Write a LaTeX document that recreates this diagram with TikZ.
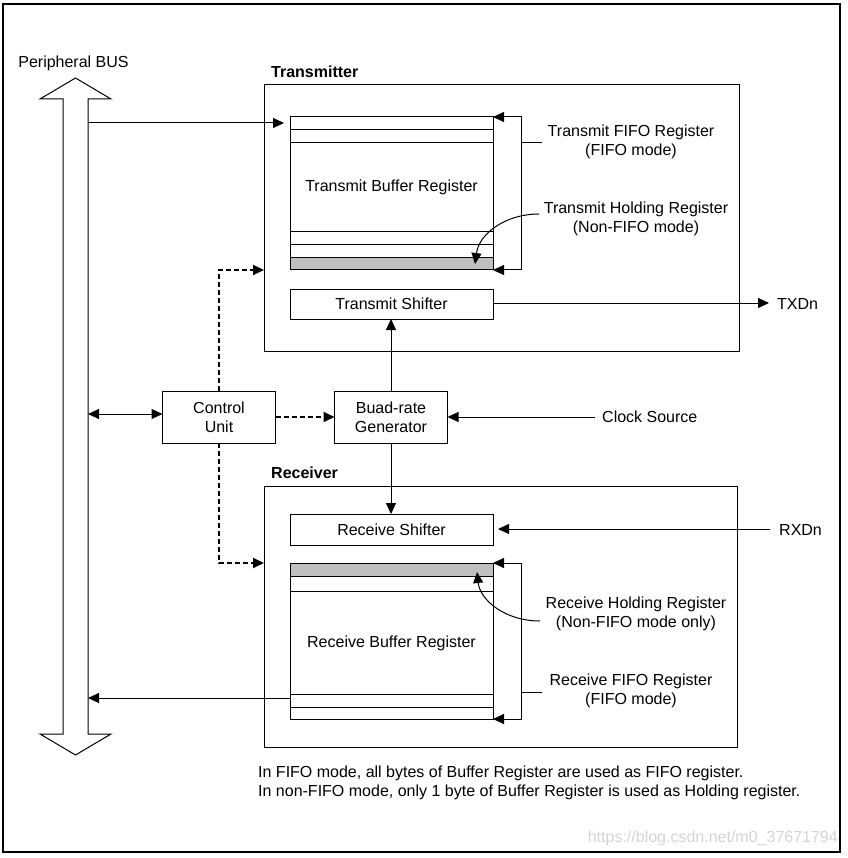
\documentclass[tikz,border=0pt]{standalone}
\usepackage{fontspec}
\setmainfont{Liberation Sans}
\usetikzlibrary{arrows.meta,calc}
\begin{document}
\begin{tikzpicture}[x=1pt,y=-1pt,
  every node/.style={font=\fontsize{16}{19}\selectfont},
  blk/.style={draw,line width=1pt,inner sep=0pt,outer sep=0pt,fill=white,align=center},
  lbl/.style={inner sep=0pt,align=center},
  arr/.style={line width=1pt,-{Triangle[length=11pt,width=10pt]}},
  arrb/.style={line width=1pt,{Triangle[length=11pt,width=10pt]}-{Triangle[length=11pt,width=10pt]}},
  darr/.style={line width=1.8pt,dash pattern=on 5pt off 3pt,-{Triangle[length=11pt,width=10pt]}},
  ln/.style={line width=1pt},
  holdfill/.style={fill=black!25}
]
\useasboundingbox (0,0) rectangle (847,858);
\draw[line width=2.5pt] (3,4) rectangle (840,852);

% Peripheral bus
\node[lbl] (buslbl) at (73.5,63) {Peripheral BUS};
\draw[line width=1pt,fill=white] (63,99) -- (40,99) -- (75.5,78) -- (111,99) -- (88,99)
  -- (88,734) -- (111,734) -- (75.5,755) -- (40,734) -- (63,734) -- cycle;
\coordinate (busT) at (88,123);
\coordinate (busC) at (88,414);
\coordinate (busR) at (88,698);

% Transmitter
\node[blk,minimum width=475pt,minimum height=266pt] (tx) at (501.5,218) {};
\node[lbl,anchor=west,font=\fontsize{16}{19}\selectfont\bfseries] (txlbl) at (271,72) {Transmitter};
\node[blk,minimum width=203pt,minimum height=153pt] (tbuf) at (391.5,193.5) {};
\fill[holdfill] (290,258) rectangle (493,270);
\foreach \yy in {130,143,232,245,258}{\draw[ln] (290,\yy) -- (493,\yy);}
\draw[line width=1pt] (tbuf.north west) rectangle (tbuf.south east);
\node[lbl] (tbuftxt) at (391.5,187.5) {Transmit Buffer Register};
\node[blk,minimum width=203pt,minimum height=30pt] (tsh) at (391.5,304) {Transmit Shifter};

\node[lbl] (tfifolbl) at (631,142) {Transmit FIFO Register\\(FIFO mode)};
\node[lbl] (tholdlbl) at (636,219) {Transmit Holding Register\\(Non-FIFO mode)};
\coordinate (tfifo) at (521,143);
\coordinate (tfifoe) at (542,143);
\draw[ln] (tfifo) -- (tfifoe);
\draw[arr] (tfifo) |- (tbuf.north east);
\draw[arr] (tfifo) |- (tbuf.south east);
\coordinate (thold) at (539,214);
\coordinate (tholdtip) at (475,264);
\draw[arr] (thold) .. controls (505,214) and (479,234) .. (tholdtip);

\coordinate (txdc) at (769,303);
\node[lbl,anchor=west] (txd) at (777,303.5) {TXDn};
\draw[arr] (tsh.east |- txdc) -- (txdc);

% Control and baud
\node[blk,minimum width=113pt,minimum height=52pt] (ctrl) at (219,417) {Control\\Unit};
\node[blk,minimum width=113pt,minimum height=52pt] (baud) at (391,417) {Buad-rate\\Generator};
\coordinate (clk) at (595,417);
\node[lbl,anchor=west] (clklbl) at (602,416.5) {Clock Source};
\draw[arr] (clk) -- (baud.east);
\draw[darr] (ctrl.east) -- (baud.west);
\draw[arr] (baud.north) -- (tsh.south -| baud.north);
\draw[arrb] (busC) -- (ctrl.west |- busC);
\draw[arr,shorten >=6pt] (busT) -- (tbuf.west |- busT);
\draw[darr] (ctrl.north) |- (tx.west |- tbuf.south);

% Receiver
\node[blk,minimum width=473pt,minimum height=261pt] (rx) at (500.5,616.5) {};
\node[lbl,anchor=west,font=\fontsize{16}{19}\selectfont\bfseries] (rxlbl) at (271,473) {Receiver};
\node[blk,minimum width=203pt,minimum height=31pt] (rsh) at (391.5,529.5) {Receive Shifter};
\node[blk,minimum width=203pt,minimum height=156pt] (rbuf) at (391.5,641) {};
\fill[holdfill] (290,563) rectangle (493,576);
\foreach \yy in {576,591,694,707}{\draw[ln] (290,\yy) -- (493,\yy);}
\draw[line width=1pt] (rbuf.north west) rectangle (rbuf.south east);
\node[lbl] (rbuftxt) at (391.5,643.5) {Receive Buffer Register};

\draw[arr] (baud.south) -- (rsh.north -| baud.south);
\draw[darr] (ctrl.south) |- (rx.west |- rbuf.north);

\coordinate (rxdc) at (770,529);
\node[lbl,anchor=west] (rxd) at (779,529.5) {RXDn};
\draw[arr,shorten >=5pt] (rxdc) -- (rsh.east |- rxdc);

\node[lbl] (rholdlbl) at (636,614) {Receive Holding Register\\(Non-FIFO mode only)};
\node[lbl] (rfifolbl) at (631,691) {Receive FIFO Register\\(FIFO mode)};
\coordinate (rfifo) at (521,692);
\coordinate (rfifoe) at (542,692);
\draw[ln] (rfifo) -- (rfifoe);
\draw[arr] (rfifo) |- (rbuf.north east);
\draw[arr] (rfifo) |- (rbuf.south east);
\coordinate (rhold) at (540,621);
\coordinate (rholdtip) at (477,572);
\draw[arr] (rhold) .. controls (505,621) and (480,600) .. (rholdtip);

\coordinate (rbufout) at (290,698);
\draw[arr] (rbufout) -- (busR);

% notes
\node[lbl,anchor=west,align=left] (note) at (258,783) {In FIFO mode, all bytes of Buffer Register are used as FIFO register.\\In non-FIFO mode, only 1 byte of Buffer Register is used as Holding register.};
\node[lbl,anchor=east,text=black!17] (url) at (838,838) {https://blog.csdn.net/m0\_37671794};
\end{tikzpicture}
\end{document}
